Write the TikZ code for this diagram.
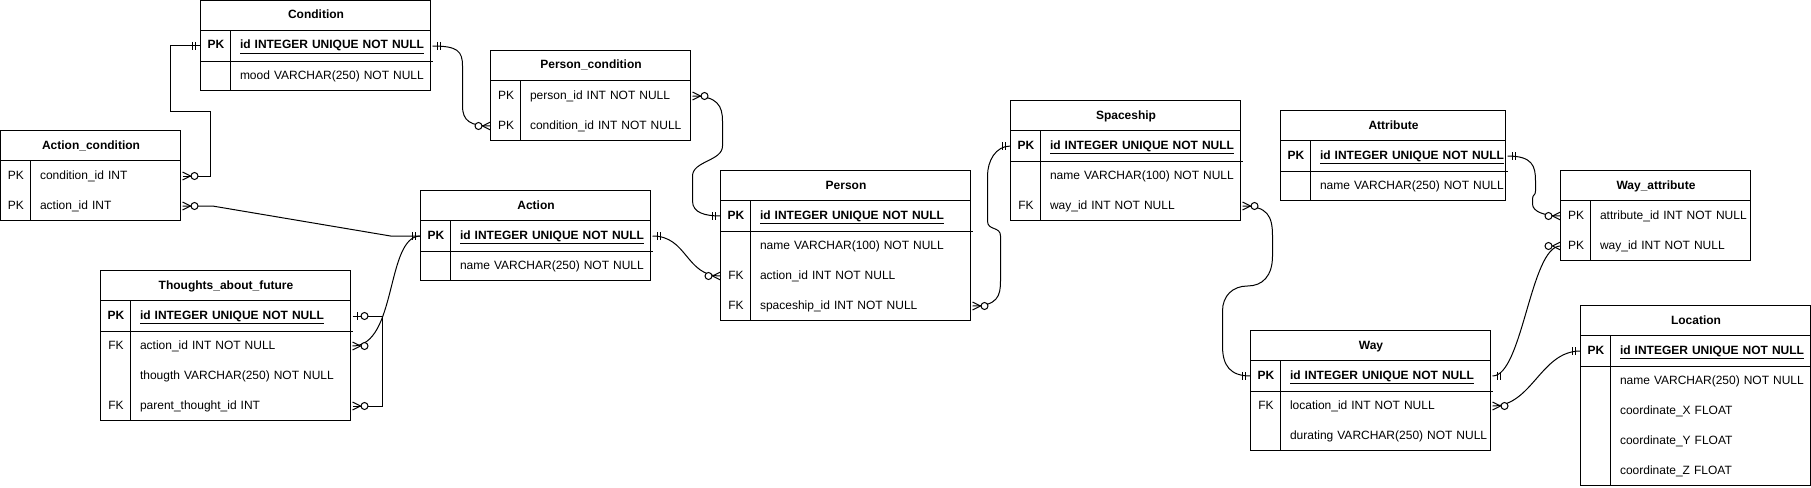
\documentclass[tikz,border=0pt]{standalone}
\usepackage{fontspec}
\setmainfont{Liberation Sans}
\usepackage{tikz}
\usetikzlibrary{calc}
\tikzset{
  tblhead/.style={font=\fontsize{12}{14}\selectfont\bfseries, minimum height=30pt, inner sep=0pt, anchor=north west, text height=9pt, text depth=3pt},
  keycell/.style={font=\fontsize{12}{14}\selectfont, minimum width=30pt, minimum height=30pt, inner sep=0pt, anchor=north west, text height=9pt, text depth=3pt},
  fieldcell/.style={font=\fontsize{12}{14}\selectfont, minimum height=30pt, inner xsep=8pt, inner ysep=0pt, anchor=west, align=left, text height=9pt, text depth=3pt}
}

% one table: name, x, y, width, title, number of rows, rows (key/field)
\newcommand{\ertable}[7]{
  \node[tblhead, minimum width=#4pt] (#1) at (#2,#3) {#5};
  \pgfmathsetmacro\fieldw{#4-46}
  \foreach \kk/\fld [count=\i] in {#7}{
    \node[keycell] (#1-k\i) at (#2,{#3+30*\i}) {\kk};
    \node[fieldcell, text width=\fieldw pt] (#1-\i) at (#1-k\i.east) {\mbox{\fld}};
  }
  \draw (#2,#3) rectangle ++(#4,{30*(#6+1)});
  \draw (#2,{#3+30}) -- ++(#4,0);
  \draw ({#2+30},{#3+30}) -- ++(0,{30*#6});
}
% ends of the connectors
\newcommand{\mandone}[2]{
  \draw ([xshift=#2*5pt]#1) ++(0,-4) -- ++(0,8);
  \draw ([xshift=#2*8pt]#1) ++(0,-4) -- ++(0,8);
}
\newcommand{\zeromany}[2]{
  \draw ([yshift=4pt]#1) -- ([xshift=#2*8pt]#1) -- ([yshift=-4pt]#1);
  \draw[fill=white] ([xshift=#2*12pt]#1) circle (3.5pt);
}
\newcommand{\zeroone}[2]{
  \draw ([xshift=#2*5pt]#1) ++(0,-4) -- ++(0,8);
  \draw[fill=white] ([xshift=#2*12pt]#1) circle (3.5pt);
}

\begin{document}
\begin{tikzpicture}[x=1pt, y=-1pt, line width=1pt]
  \useasboundingbox (-0.5,-0.5) rectangle (1810.5,486.5);

  % Tables
  \ertable{actcond}{0}{130}{180}{Action\_condition}{2}{PK/condition\_id INT, PK/action\_id INT}
  \ertable{cond}{200}{0}{230}{Condition}{2}{\textbf{PK}/\underline{\textbf{id INTEGER UNIQUE NOT NULL}}, {}/mood VARCHAR(250) NOT NULL}
  \ertable{percond}{490}{50}{200}{Person\_condition}{2}{PK/person\_id INT NOT NULL, PK/condition\_id INT NOT NULL}
  \ertable{action}{420}{190}{230}{Action}{2}{\textbf{PK}/\underline{\textbf{id INTEGER UNIQUE NOT NULL}}, {}/name VARCHAR(250) NOT NULL}
  \ertable{thought}{100}{270}{250}{Thoughts\_about\_future}{4}{\textbf{PK}/\underline{\textbf{id INTEGER UNIQUE NOT NULL}}, FK/action\_id INT NOT NULL, {}/thougth VARCHAR(250) NOT NULL, FK/parent\_thought\_id INT}
  \ertable{person}{720}{170}{250}{Person}{4}{\textbf{PK}/\underline{\textbf{id INTEGER UNIQUE NOT NULL}}, {}/name VARCHAR(100) NOT NULL, FK/action\_id INT NOT NULL, FK/spaceship\_id INT NOT NULL}
  \ertable{ship}{1010}{100}{230}{Spaceship}{3}{\textbf{PK}/\underline{\textbf{id INTEGER UNIQUE NOT NULL}}, {}/name VARCHAR(100) NOT NULL, FK/way\_id INT NOT NULL}
  \ertable{attr}{1280}{110}{225}{Attribute}{2}{\textbf{PK}/\underline{\textbf{id INTEGER UNIQUE NOT NULL}}, {}/name VARCHAR(250) NOT NULL}
  \ertable{wayattr}{1560}{170}{190}{Way\_attribute}{2}{PK/attribute\_id INT NOT NULL, PK/way\_id INT NOT NULL}
  \ertable{way}{1250}{330}{240}{Way}{3}{\textbf{PK}/\underline{\textbf{id INTEGER UNIQUE NOT NULL}}, FK/location\_id INT NOT NULL, {}/durating VARCHAR(250) NOT NULL}
  \ertable{loc}{1580}{305}{230}{Location}{5}{\textbf{PK}/\underline{\textbf{id INTEGER UNIQUE NOT NULL}}, {}/name VARCHAR(250) NOT NULL, {}/coordinate\_X FLOAT, {}/coordinate\_Y FLOAT, {}/coordinate\_Z FLOAT}

  % Lines under the primary keys
  \foreach \t in {cond, action, thought, person, ship, attr, way, loc}
    \draw (\t-k1.south west) -- (\t-1.south east);

  % Connectors
  \draw (cond-k1.west) -- ++(-30,0) -- ++(0,65) -- ++(40,0) |- (actcond-1.east);
  \draw (cond-1.east) .. controls +(25,0) and +(0,-15) .. ++(30,20) -- ++(0,40) .. controls +(0,15) and +(-20,0) .. (percond-k2.west);
  \draw (actcond-2.east) -- ++(30,0) -- ([xshift=-30pt]action-k1.west) -- (action-k1.west);
  \draw (thought-2.east) .. controls +(45,0) and +(-35,0) .. (action-k1.west);
  \draw (thought-1.east) -- ++(30,0) |- (thought-4.east);
  \draw (percond-1.east) .. controls +(25,0) and +(0,-15) .. ++(30,25) -- ++(0,25) .. controls +(0,15) and +(0,-15) .. ++(-30,30) -- ++(0,25) .. controls +(0,12) and +(-15,0) .. (person-k1.west);
  \draw (action-1.east) .. controls +(35,0) and +(-35,0) .. (person-k3.west);
  \draw (person-4.east) .. controls +(25,0) and +(0,15) .. ++(28,-25) -- ++(0,-45) .. controls +(0,-10) and +(0,10) .. ++(-13,-15) -- ++(0,-45) .. controls +(0,-15) and +(-15,0) .. (ship-k1.west);
  \draw (ship-3.east) .. controls +(25,0) and +(0,-20) .. ++(30,30) -- ++(0,20) .. controls +(0,20) and +(15,0) .. ++(-25,30) .. controls +(-15,0) and +(0,-15) .. ++(-25,25) -- ++(0,35) .. controls +(0,20) and +(-20,0) .. (way-k1.west);
  \draw (attr-1.east) .. controls +(25,0) and +(0,-15) .. ++(28,25) -- ++(0,10) .. controls +(0,5) and +(0,-5) .. ++(-3,8) -- ++(0,5) .. controls +(0,8) and +(-15,0) .. (wayattr-k1.west);
  \draw (way-1.east) .. controls +(30,0) and +(-30,0) .. (wayattr-k2.west);
  \draw (way-2.east) .. controls +(40,0) and +(-40,0) .. (loc-k1.west);

  % Ends
  \mandone{cond-k1.west}{-1} \zeromany{actcond-1.east}{1}
  \mandone{cond-1.east}{1} \zeromany{percond-k2.west}{-1}
  \zeromany{actcond-2.east}{1} \mandone{action-k1.west}{-1}
  \zeromany{thought-2.east}{1}
  \zeroone{thought-1.east}{1} \zeromany{thought-4.east}{1}
  \zeromany{percond-1.east}{1} \mandone{person-k1.west}{-1}
  \mandone{action-1.east}{1} \zeromany{person-k3.west}{-1}
  \zeromany{person-4.east}{1} \mandone{ship-k1.west}{-1}
  \zeromany{ship-3.east}{1} \mandone{way-k1.west}{-1}
  \mandone{attr-1.east}{1} \zeromany{wayattr-k1.west}{-1}
  \mandone{way-1.east}{1} \zeromany{wayattr-k2.west}{-1}
  \zeromany{way-2.east}{1} \mandone{loc-k1.west}{-1}
\end{tikzpicture}
\end{document}
